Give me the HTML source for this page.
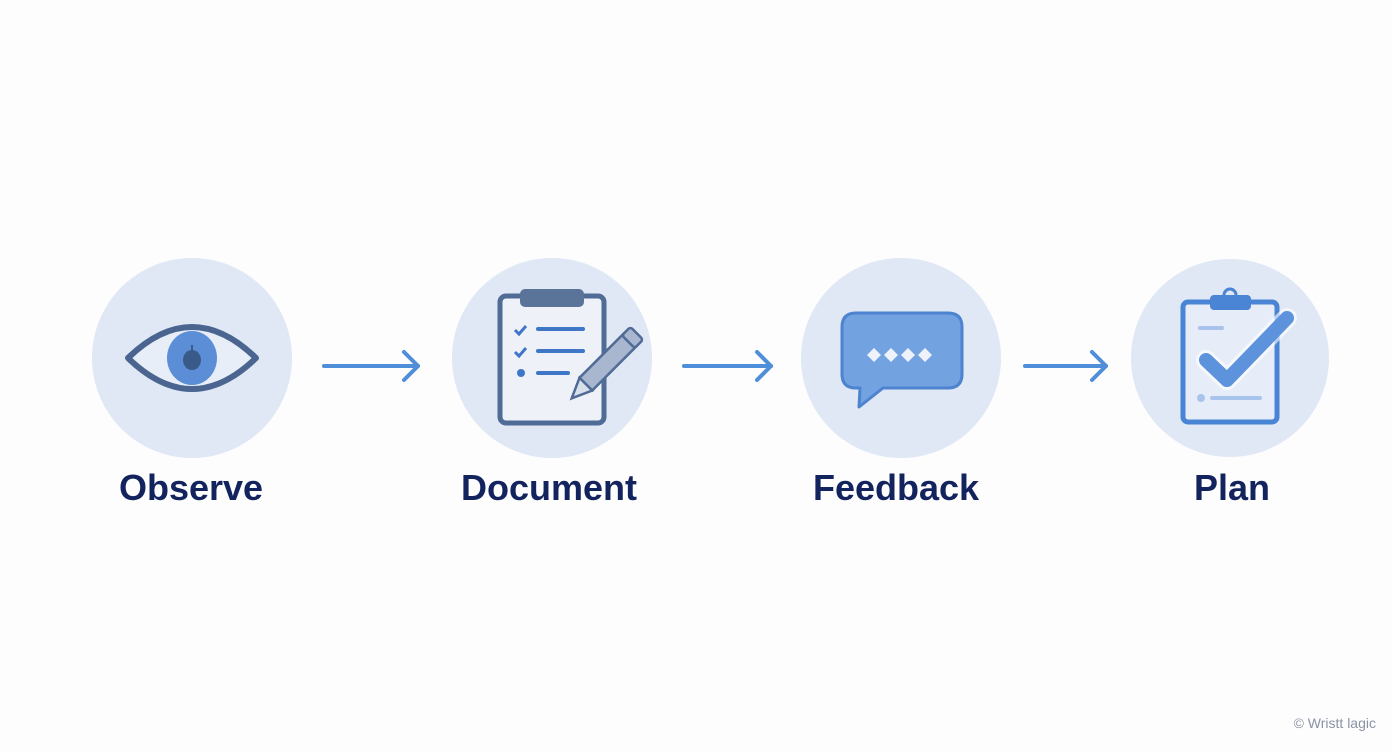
<!DOCTYPE html>
<html><head><meta charset="utf-8"><style>
html,body{margin:0;padding:0;background:#fdfdfe;}
svg{display:block}
text{font-family:"Liberation Sans",sans-serif;font-weight:bold;fill:#13235e;}
</style></head><body>
<svg width="1392" height="752" viewBox="0 0 1392 752" xmlns="http://www.w3.org/2000/svg">
<rect width="1392" height="752" fill="#fdfdfe"/>
<circle cx="192" cy="358" r="100" fill="#dfe8f4"/>
<circle cx="552" cy="358" r="100" fill="#dfe8f4"/>
<circle cx="901" cy="358" r="100" fill="#dfe8f4"/>
<circle cx="1230" cy="358" r="99" fill="#dfe8f4"/>

<!-- eye -->
<path d="M128,358 Q192,296 256,358 Q192,420 128,358 Z" fill="#e8eef7" stroke="#4a6590" stroke-width="6" stroke-linejoin="round"/>
<ellipse cx="192" cy="358" rx="25" ry="27" fill="#5b8ed6"/>
<ellipse cx="192" cy="360" rx="9" ry="10" fill="#3a5a88"/>
<line x1="192" y1="345" x2="192" y2="352" stroke="#3a5a88" stroke-width="2"/>

<!-- document clipboard -->
<rect x="500" y="296" width="104" height="127" rx="6" fill="#eef2f8" stroke="#4f6b96" stroke-width="5"/>
<rect x="520" y="289" width="64" height="18" rx="5" fill="#5a7399"/>
<path d="M515,330 l4,4 l7,-8 M515,352 l4,4 l7,-8" fill="none" stroke="#3f76c8" stroke-width="3"/>
<line x1="538" y1="329" x2="583" y2="329" stroke="#3f76c8" stroke-width="4" stroke-linecap="round"/>
<line x1="538" y1="351" x2="583" y2="351" stroke="#3f76c8" stroke-width="4" stroke-linecap="round"/>
<line x1="538" y1="373" x2="568" y2="373" stroke="#3f76c8" stroke-width="4" stroke-linecap="round"/>
<circle cx="521" cy="373" r="4" fill="#3f76c8"/>
<g transform="translate(600,370) rotate(45)">
<rect x="-9" y="-42" width="18" height="62" fill="#a8b7cf" stroke="#4f6b96" stroke-width="2.5"/>
<rect x="-9" y="-52" width="18" height="12" rx="3" fill="#a8b7cf" stroke="#4f6b96" stroke-width="2.5"/>
<path d="M-9,20 L0,40 L9,20 Z" fill="#d8e0ec" stroke="#4f6b96" stroke-width="2.5"/>
</g>

<!-- feedback bubble -->
<path d="M856,313 H948 Q962,313 962,327 V374 Q962,388 948,388 H883 L859,407 L860,388 H856 Q842,388 842,374 V327 Q842,313 856,313 Z" fill="#72a2e0" stroke="#4d83cf" stroke-width="3" stroke-linejoin="round"/>
<g fill="#eef3fb">
<path d="M867,355 l7,-7 l7,7 l-7,7z"/><path d="M884,355 l7,-7 l7,7 l-7,7z"/><path d="M901,355 l7,-7 l7,7 l-7,7z"/><path d="M918,355 l7,-7 l7,7 l-7,7z"/>
</g>

<!-- plan clipboard -->
<rect x="1183" y="302" width="94" height="120" rx="5" fill="#e6edf8" stroke="#4a84d4" stroke-width="5"/>
<rect x="1210" y="295" width="41" height="15" rx="4" fill="#4a84d4"/>
<circle cx="1230" cy="295" r="6" fill="none" stroke="#4a84d4" stroke-width="3"/>
<line x1="1200" y1="328" x2="1222" y2="328" stroke="#a9c4ec" stroke-width="4" stroke-linecap="round"/>
<line x1="1212" y1="398" x2="1260" y2="398" stroke="#a9c4ec" stroke-width="4" stroke-linecap="round"/>
<circle cx="1201" cy="398" r="4" fill="#a9c4ec"/>
<path d="M1206,360 L1227,380 L1287,318" fill="none" stroke="#ffffff" stroke-width="20" stroke-linecap="round" stroke-linejoin="round" opacity="0.6"/>
<path d="M1206,360 L1227,380 L1287,318" fill="none" stroke="#5d92dc" stroke-width="14" stroke-linecap="round" stroke-linejoin="round"/>

<!-- arrows -->
<g stroke="#4f8ed8" stroke-width="4" fill="none" stroke-linecap="round" stroke-linejoin="round">
<line x1="324" y1="366" x2="418" y2="366"/><path d="M404,352 L418,366 L404,380"/>
<line x1="684" y1="366" x2="771" y2="366"/><path d="M757,352 L771,366 L757,380"/>
<line x1="1025" y1="366" x2="1106" y2="366"/><path d="M1092,352 L1106,366 L1092,380"/>
</g>

<text x="191" y="500" font-size="36" text-anchor="middle">Observe</text>
<text x="549" y="500" font-size="36" text-anchor="middle">Document</text>
<text x="896" y="500" font-size="36" text-anchor="middle">Feedback</text>
<text x="1232" y="500" font-size="36" text-anchor="middle">Plan</text>
<text x="1376" y="728" font-size="14" text-anchor="end" style="font-weight:normal;fill:#8a93a3">© Wristt lagic</text>
</svg>
</body></html>
